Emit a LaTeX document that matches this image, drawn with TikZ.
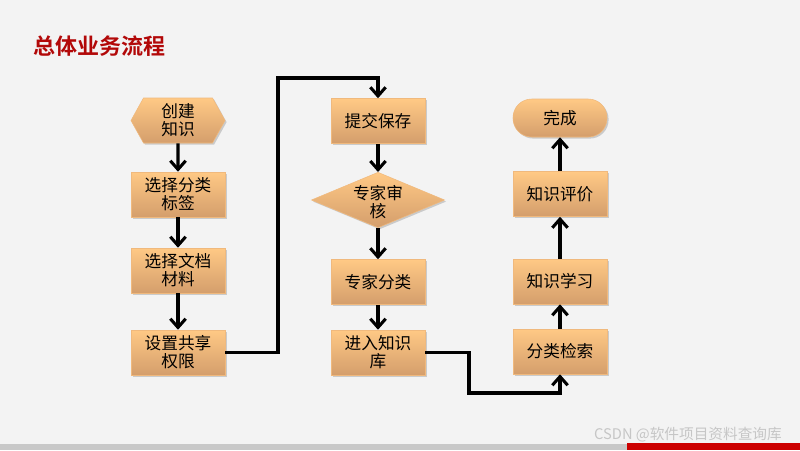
\documentclass[tikz,border=0pt]{standalone}
\usepackage{fontspec}
\usepackage{xcolor}
\usepackage{tikz}
\usetikzlibrary{shapes.geometric,shapes.symbols,shadows,arrows.meta}
\newfontfamily\cjk[BoldFont={Noto Sans CJK SC Bold}]{Noto Sans CJK SC}
\definecolor{boxtop}{RGB}{255,201,133}
\definecolor{boxbot}{RGB}{212,158,108}
\definecolor{boxline}{RGB}{240,185,125}
\definecolor{titlered}{RGB}{178,8,8}
\definecolor{bargray}{RGB}{200,200,200}
\definecolor{barred}{RGB}{204,0,0}
\definecolor{bg}{RGB}{243,243,243}

\begin{document}
\begin{tikzpicture}[x=0.75pt,y=-0.75pt,
    box/.style={shape=rectangle, draw=boxline, thin, top color=boxtop, bottom color=boxbot,
      minimum width=70.5pt, minimum height=33.75pt, inner sep=0pt, align=center,
      font=\cjk\fontsize{12.5}{13.5}\selectfont,
      drop shadow={shadow xshift=1.2pt, shadow yshift=-1.2pt, opacity=0.35}},
    hexbox/.style={box, shape=signal, signal to=east and west, signal pointer angle=122},
    diabox/.style={box, shape=diamond, aspect=2.4, minimum width=98pt, minimum height=40.5pt},
    endbox/.style={box, minimum height=28.5pt, rounded corners=14pt},
    flow/.style={line width=2.3pt, -{Straight Barb[length=6.5pt,width=11.5pt,line width=2.3pt]}}]
    \useasboundingbox (0,0) rectangle (800,450);
    \fill[bg] (0,0) rectangle (800,450);
    \fill[bargray] (0,444) rectangle (627,450);
    \fill[barred] (627,443) rectangle (800,450);

    \node[anchor=west, text=titlered, font=\cjk\bfseries\fontsize{16.5}{18}\selectfont] (title) at (29,46) {总体业务流程};
    \node[font=\cjk\fontsize{11}{12}\selectfont] (mark) at (688,435) {\textcolor{gray!45}{CSDN @软件项目资料查询库}};

    % left column
    \node[hexbox] (s1) at (178,120.5) {创建\\知识};
    \node[box] (s2) at (178,194.5) {选择分类\\标签};
    \node[box] (s3) at (178,270.5) {选择文档\\材料};
    \node[box] (s4) at (178,352.5) {设置共享\\权限};

    % middle column
    \node[box] (t1) at (378,121) {提交保存};
    \node[diabox] (t2) at (378,200) {\raisebox{-6pt}[13pt][13pt]{\begin{tabular}{@{}c@{}}专家审\\[-1.5pt]核\end{tabular}}};
    \node[box] (t3) at (378,282) {专家分类};
    \node[box] (t4) at (378,352.5) {进入知识\\库};

    % right column
    \node[endbox] (r1) at (560,118) {完成};
    \node[box] (r2) at (560,194) {知识评价};
    \node[box] (r3) at (560,281.5) {知识学习};
    \node[box] (r4) at (560,351.5) {分类检索};

    \coordinate (bendA) at (278,78);
    \coordinate (bendB) at (469,393);

    \draw[flow] (s1) -- (s2);
    \draw[flow] (s2) -- (s3);
    \draw[flow] (s3) -- (s4);
    \draw[flow] (s4.east) -| (bendA) -| (t1.north);
    \draw[flow] (t1) -- (t2);
    \draw[flow] (t2) -- (t3);
    \draw[flow] (t3) -- (t4);
    \draw[flow] (t4.east) -| (bendB) -| (r4.south);
    \draw[flow] (r4) -- (r3);
    \draw[flow] (r3) -- (r2);
    \draw[flow] (r2) -- (r1);
\end{tikzpicture}
\end{document}
